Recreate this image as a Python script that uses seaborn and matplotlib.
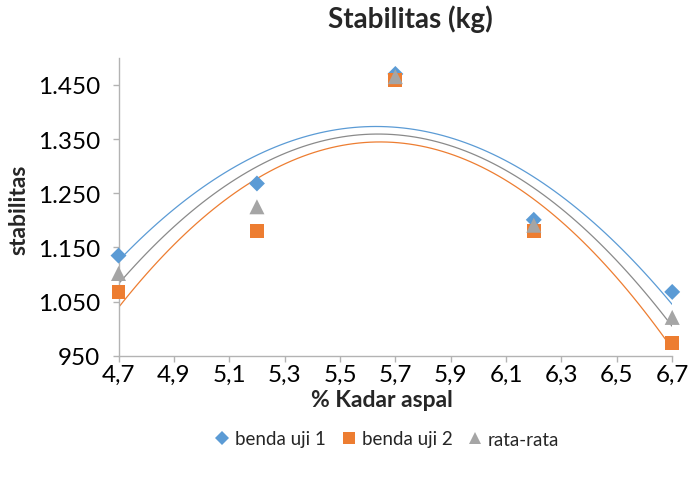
import numpy as np
import pandas as pd
import matplotlib
matplotlib.use("Agg")
import matplotlib.pyplot as plt
import seaborn as sns
from matplotlib.lines import Line2D
from matplotlib.ticker import FixedLocator, FuncFormatter

# Marshall stability per asphalt content
kadar_aspal = [4.7, 5.2, 5.7, 6.2, 6.7]
benda_uji_1 = [1135, 1268, 1470, 1201, 1068]
benda_uji_2 = [1068, 1181, 1459, 1181, 973]
rata_rata = [1102, 1225, 1465, 1191, 1021]
series_names = ["benda uji 1", "benda uji 2", "rata-rata"]

x_ticks = [4.7, 4.9, 5.1, 5.3, 5.5, 5.7, 5.9, 6.1, 6.3, 6.5, 6.7]
y_ticks = [950, 1050, 1150, 1250, 1350, 1450]

sns.set_theme(style="white")
plt.rcParams["font.family"] = ["Lato", "DejaVu Sans"]

df = pd.DataFrame({
    "kadar": kadar_aspal * 3,
    "stabilitas": benda_uji_1 + benda_uji_2 + rata_rata,
    "seri": np.repeat(series_names, len(kadar_aspal)),
})

point_colors = {"benda uji 1": "#5B9BD5", "benda uji 2": "#ED7D31", "rata-rata": "#A5A5A5"}
line_colors = {"benda uji 1": "#5B9BD5", "benda uji 2": "#ED7D31", "rata-rata": "#8A8A8A"}
markers = {"benda uji 1": "D", "benda uji 2": "s", "rata-rata": "^"}
marker_area = {"benda uji 1": 66, "benda uji 2": 100, "rata-rata": 117}

fig = plt.figure(figsize=(6.93, 4.81), dpi=100)
ax = fig.add_axes([0.171, 0.258, 0.799, 0.620])

# second-order polynomial trendlines
for name in series_names:
    sub = df[df["seri"] == name]
    sns.regplot(data=sub, x="kadar", y="stabilitas", order=2, ci=None,
                scatter=False, truncate=True, ax=ax,
                line_kws=dict(color=line_colors[name], lw=0.9, zorder=2))

# measured points
for name in series_names:
    sub = df[df["seri"] == name]
    sns.scatterplot(data=sub, x="kadar", y="stabilitas", marker=markers[name],
                    color=point_colors[name], s=marker_area[name],
                    edgecolor="none", linewidth=0, ax=ax, legend=False,
                    clip_on=False, zorder=3)

ax.set_xlim(4.7, 6.7)
ax.set_ylim(950, 1500)
ax.xaxis.set_major_locator(FixedLocator(x_ticks))
ax.yaxis.set_major_locator(FixedLocator(y_ticks))
ax.xaxis.set_major_formatter(FuncFormatter(lambda v, p: f"{v:.1f}".replace(".", ",")))
ax.yaxis.set_major_formatter(FuncFormatter(lambda v, p: f"{v:,.0f}".replace(",", ".")))
ax.set_xlabel("")
ax.set_ylabel("")

axis_gray = "#B3B3B3"
for side in ["top", "right"]:
    ax.spines[side].set_visible(False)
for side in ["left", "bottom"]:
    ax.spines[side].set_color(axis_gray)
    ax.spines[side].set_linewidth(1.0)
ax.tick_params(axis="both", which="major", direction="out", length=4,
               width=1.0, color=axis_gray, labelsize=17.5, labelcolor="#000000")
ax.tick_params(axis="y", pad=9)
ax.tick_params(axis="x", pad=2)
ax.tick_params(left=True, bottom=True)

fig.text(410 / 693, 1 - 19 / 481, "Stabilitas (kg)", ha="center", va="center",
         fontsize=20, fontweight="bold")
fig.text(19 / 693, 1 - 210 / 481, "stabilitas", ha="center", va="center",
         rotation=90, fontsize=16.5, fontweight="bold")
fig.text(382 / 693, 1 - 401 / 481, "% Kadar aspal", ha="center", va="center",
         fontsize=16.5, fontweight="bold")

handles = [Line2D([], [], linestyle="none", marker=markers[n], color=point_colors[n],
                  markersize={"benda uji 1": 7, "benda uji 2": 8, "rata-rata": 8}[n],
                  markeredgewidth=0)
           for n in series_names]
fig.legend(handles, series_names, loc="center", bbox_to_anchor=(387 / 693, 1 - 440 / 481),
           ncol=3, frameon=False, fontsize=13.5, handlelength=0.8, handletextpad=0.3,
           columnspacing=0.8, borderaxespad=0)

fig.savefig("out.png", dpi=100)
